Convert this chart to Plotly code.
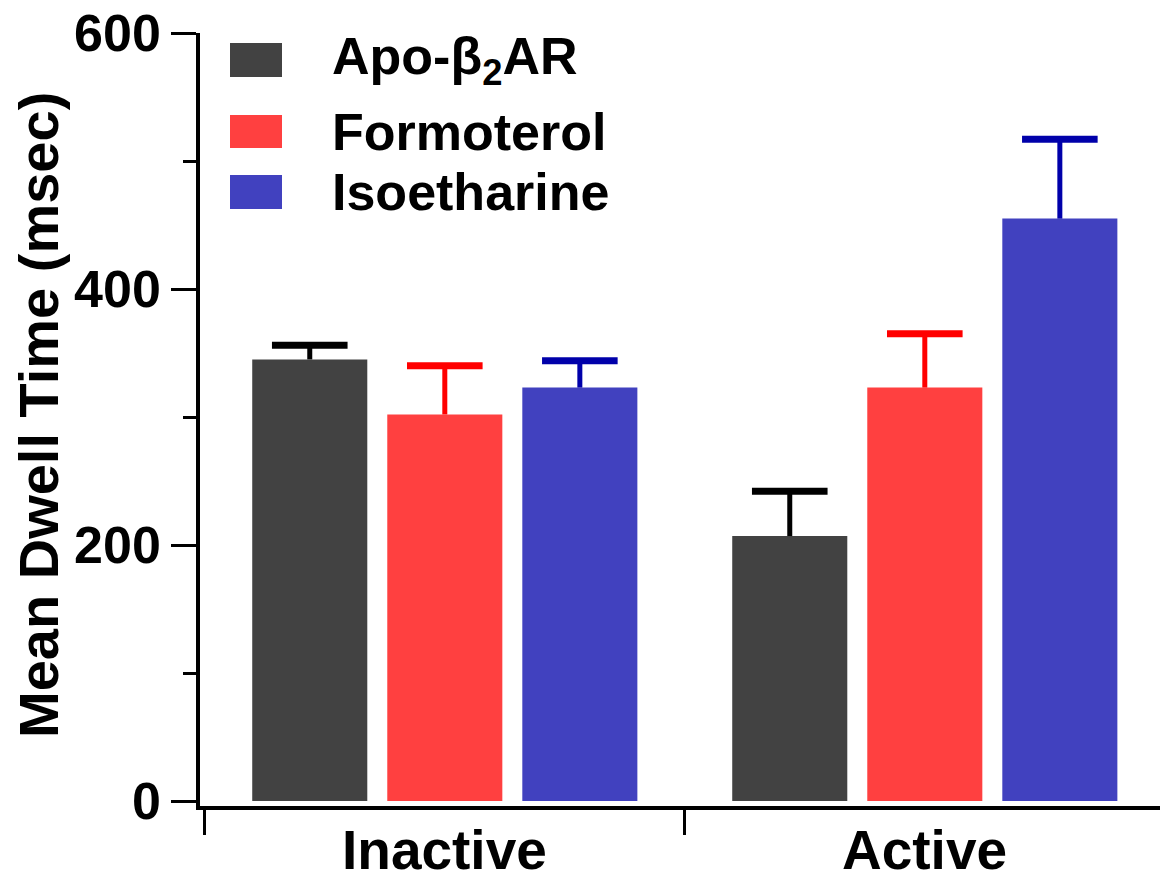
import plotly.graph_objects as go

# ---- data ----
categories = ["Inactive", "Active"]
series_names = ["Apo-β<sub>2</sub>AR", "Formoterol", "Isoetharine"]
apo_vals = [345, 207]
apo_err = [11, 35]
formo_vals = [302, 323]
formo_err = [38, 42]
iso_vals = [323, 455]
iso_err = [21, 62]
y_ticks = [0, 200, 400, 600]

bar_colors = ["#424242", "#FF4040", "#4141BF"]
err_colors = ["#000000", "#FF0000", "#0000AA"]

W, H = 1160, 882
L, R, T, B = 200, 0, 33, 76
PW, PH = W - L - R, H - T - B
BARGAP, GROUPGAP = 0.156, 0.148

def px_x(x):
    return (x - L) / PW

def px_y(y):
    return (H - B - y) / PH

FONT = "Liberation Sans, Arial, sans-serif"

fig = go.Figure()
vals = [apo_vals, formo_vals, iso_vals]
errs = [apo_err, formo_err, iso_err]
for i in range(3):
    # bar + error stem (no caps)
    fig.add_trace(go.Bar(
        x=categories, y=vals[i], name=series_names[i], offsetgroup=str(i),
        marker=dict(color=bar_colors[i], line=dict(width=0)),
        error_y=dict(type="data", array=errs[i], arrayminus=[0] * len(errs[i]),
                     symmetric=False, color=err_colors[i], thickness=5, width=0),
        showlegend=False,
    ))
for i in range(3):
    # error caps
    tops = [v + e for v, e in zip(vals[i], errs[i])]
    fig.add_trace(go.Scatter(
        x=categories, y=tops, mode="markers", offsetgroup=str(i),
        marker=dict(symbol="line-ew", size=54, color=err_colors[i],
                    line=dict(width=7, color=err_colors[i])),
        showlegend=False, hoverinfo="skip",
    ))

# category labels
for c in categories:
    fig.add_annotation(xref="x", yref="paper", x=c, y=px_y(817),
                       xanchor="center", yanchor="top", showarrow=False, text=c,
                       font=dict(family=FONT, size=55, color="black", weight="bold"))

# manual legend (swatches + labels)
legend_rows = [(43, 77), (115, 148), (175, 209)]
for i, (y0, y1) in enumerate(legend_rows):
    fig.add_shape(type="rect", xref="paper", yref="paper",
                  x0=px_x(230), x1=px_x(282), y0=px_y(y1), y1=px_y(y0),
                  fillcolor=bar_colors[i], line=dict(width=0))
    fig.add_annotation(xref="paper", yref="paper", x=px_x(330), y=px_y((y0 + y1) / 2),
                       xanchor="left", yanchor="middle", showarrow=False,
                       text=series_names[i],
                       font=dict(family=FONT, size=52, color="black", weight="bold"))

# y-axis title
fig.add_annotation(xref="paper", yref="paper", x=px_x(38), y=px_y(415),
                   xanchor="center", yanchor="middle", showarrow=False, textangle=-90,
                   text="Mean Dwell Time (msec)",
                   font=dict(family=FONT, size=56, color="black", weight="bold"))

fig.update_layout(
    width=W, height=H,
    margin=dict(l=L, r=R, t=T, b=B, pad=0, autoexpand=False),
    paper_bgcolor="white", plot_bgcolor="white",
    barmode="group", bargap=BARGAP, bargroupgap=GROUPGAP,
    scattermode="group", scattergap=BARGAP,
    font=dict(family=FONT, color="black"),
)
fig.update_xaxes(
    type="category", range=[-0.51, 1.49], automargin=False,
    showline=True, linecolor="black", linewidth=4,
    ticks="outside", tickson="boundaries", ticklen=25, tickwidth=3, tickcolor="black",
    showticklabels=False,
    showgrid=False, zeroline=False,
)
fig.update_yaxes(
    range=[-3.9, 600], automargin=False,
    tickvals=y_ticks, ticktext=[str(v) for v in y_ticks],
    showline=True, linecolor="black", linewidth=3.5,
    ticks="outside", ticklen=25, tickwidth=3, tickcolor="black",
    ticklabelstandoff=0,
    minor=dict(dtick=100, tick0=0, ticks="outside", ticklen=13, tickwidth=3, tickcolor="black"),
    tickfont=dict(family=FONT, size=52, color="black", weight="bold"),
    showgrid=False, zeroline=False,
)

fig.write_html("out.html")
